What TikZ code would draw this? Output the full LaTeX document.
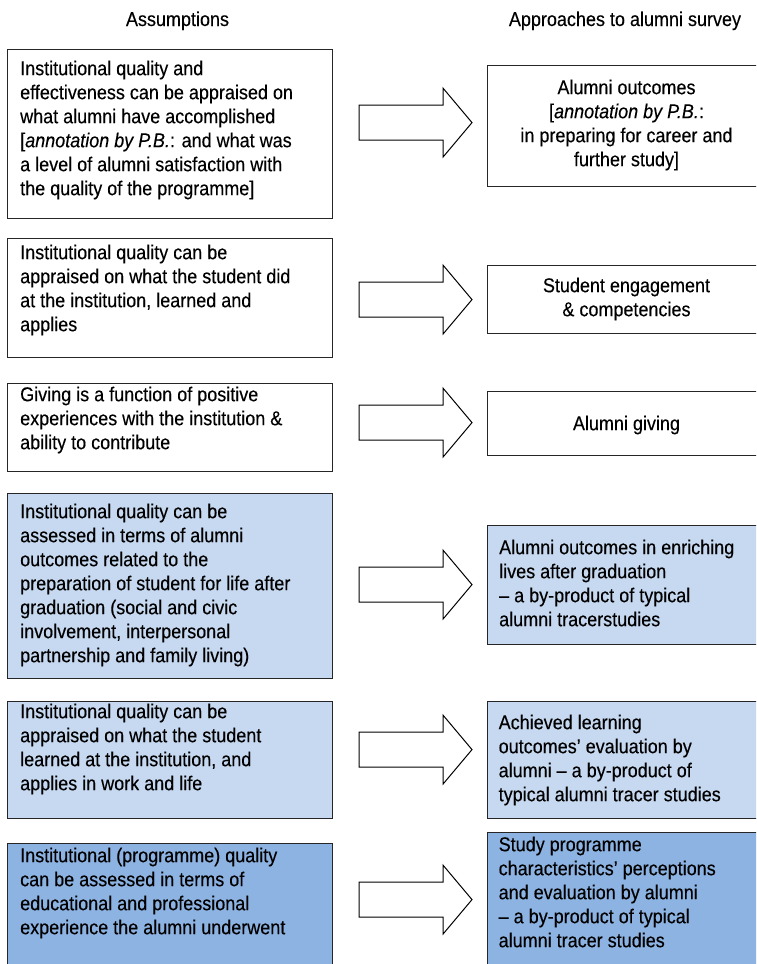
\documentclass[tikz,border=0pt]{standalone}
\usepackage{fontspec}
\setmainfont{Liberation Sans}[FakeStretch=0.9,FakeBold=0.25]
\definecolor{lightblue}{HTML}{C6D9F1}
\definecolor{midblue}{HTML}{8DB3E2}
\begin{document}
\begin{tikzpicture}[x=1pt,y=-1pt,
  box/.style={draw=black!85,line width=1.2pt,inner sep=0pt,anchor=north west},
  txt/.style={inner sep=0pt,anchor=north west,align=left,font=\fontsize{20}{24}\selectfont,text=black},
  ctxt/.style={inner sep=0pt,anchor=north,align=center,font=\fontsize{20}{24}\selectfont,text=black},
  title/.style={inner sep=0pt,anchor=base,font=\fontsize{20}{24}\selectfont,text=black},
  arrowline/.style={draw=black,line width=1pt,fill=white,line join=miter},
  barrow/.pic={\path[arrowline] (0,0) -- (-29,34.5) -- (-29,17.5) -- (-113,17.5) -- (-113,-17.5) -- (-29,-17.5) -- (-29,-34.5) -- cycle;}
]
\useasboundingbox (0,0) rectangle (756,964);
\clip (0,0) rectangle (756,964);
\fill[white] (0,0) rectangle (756,964);

% titles
\node[title] (tA) at (177.5,26) {Assumptions};
\node[title] (tB) at (625,26) {Approaches to alumni survey};

% left boxes
\node[box,minimum width=325pt,minimum height=169pt] (L1) at (7,49) {};
\node[box,minimum width=325pt,minimum height=119pt] (L2) at (7,238) {};
\node[box,minimum width=325pt,minimum height=88pt] (L3) at (7,383) {};
\node[box,fill=lightblue,minimum width=325pt,minimum height=185pt] (L4) at (7,493) {};
\node[box,fill=lightblue,minimum width=325pt,minimum height=117pt] (L5) at (7,701) {};
\node[box,fill=midblue,minimum width=325pt,minimum height=160pt] (L6) at (7,843) {};

% right boxes
\node[box,minimum width=280pt,minimum height=121pt] (R1) at (487,65) {};
\node[box,minimum width=280pt,minimum height=68pt] (R2) at (487,265) {};
\node[box,minimum width=280pt,minimum height=64pt] (R3) at (487,391) {};
\node[box,fill=lightblue,minimum width=280pt,minimum height=119pt] (R4) at (487,525) {};
\node[box,fill=lightblue,minimum width=280pt,minimum height=117pt] (R5) at (487,701) {};
\node[box,fill=midblue,minimum width=280pt,minimum height=170pt] (R6) at (487,832) {};

% left texts
\node[txt] (l1t) at (20,58.2) {\strut Institutional quality and\\effectiveness can be appraised on\\what alumni have accomplished\\{[}\textit{annotation by P.B.}: and what was\\a level of alumni satisfaction with\\the quality of the programme{]}};
\node[txt] (l2t) at (20,242.2) {\strut Institutional quality can be\\appraised on what the student did\\at the institution, learned and\\applies};
\node[txt] (l3t) at (20,384.2) {\strut Giving is a function of positive\\experiences with the institution \&\\ability to contribute};
\node[txt] (l4t) at (20,501.2) {\strut Institutional quality can be\\assessed in terms of alumni\\outcomes related to the\\preparation of student for life after\\graduation (social and civic\\involvement, interpersonal\\partnership and family living)};
\node[txt] (l5t) at (20,701.2) {\strut Institutional quality can be\\appraised on what the student\\learned at the institution, and\\applies in work and life};
\node[txt] (l6t) at (20,845.2) {\strut Institutional (programme) quality\\can be assessed in terms of\\educational and professional\\experience the alumni underwent};

% right texts
\node[ctxt] (r1t) at (626.5,77.2) {\strut Alumni outcomes\\{[}\textit{annotation by P.B.}:\hspace*{40pt}\\in preparing for career and\\further study{]}};
\node[ctxt] (r2t) at (626.5,275.2) {\strut Student engagement\\\& competencies};
\node[ctxt] (r3t) at (626.5,413.2) {\strut Alumni giving};
\node[txt] (r4t) at (499,537.2) {\strut Alumni outcomes in enriching\\lives after graduation\\– a by-product of typical\\alumni tracerstudies};
\node[txt] (r5t) at (498.5,712.2) {\strut Achieved learning\\outcomes’ evaluation by\\alumni – a by-product of\\typical alumni tracer studies};
\node[txt] (r6t) at (498.5,834.2) {\strut Study programme\\characteristics’ perceptions\\and evaluation by alumni\\– a by-product of typical\\alumni tracer studies};

% block arrows, tips placed just left of the right boxes
\pic at ([xshift=-15pt,yshift=3.5pt]R1.west) {barrow};
\pic at ([xshift=-15pt]R2.west) {barrow};
\pic at ([xshift=-15pt,yshift=1pt]R3.west) {barrow};
\pic at ([xshift=-15pt,yshift=0.5pt]R4.west) {barrow};
\pic at ([xshift=-15pt,yshift=10.5pt]R5.west) {barrow};
\pic at ([xshift=-15pt,yshift=18pt]R6.west) {barrow};
\end{tikzpicture}
\end{document}
